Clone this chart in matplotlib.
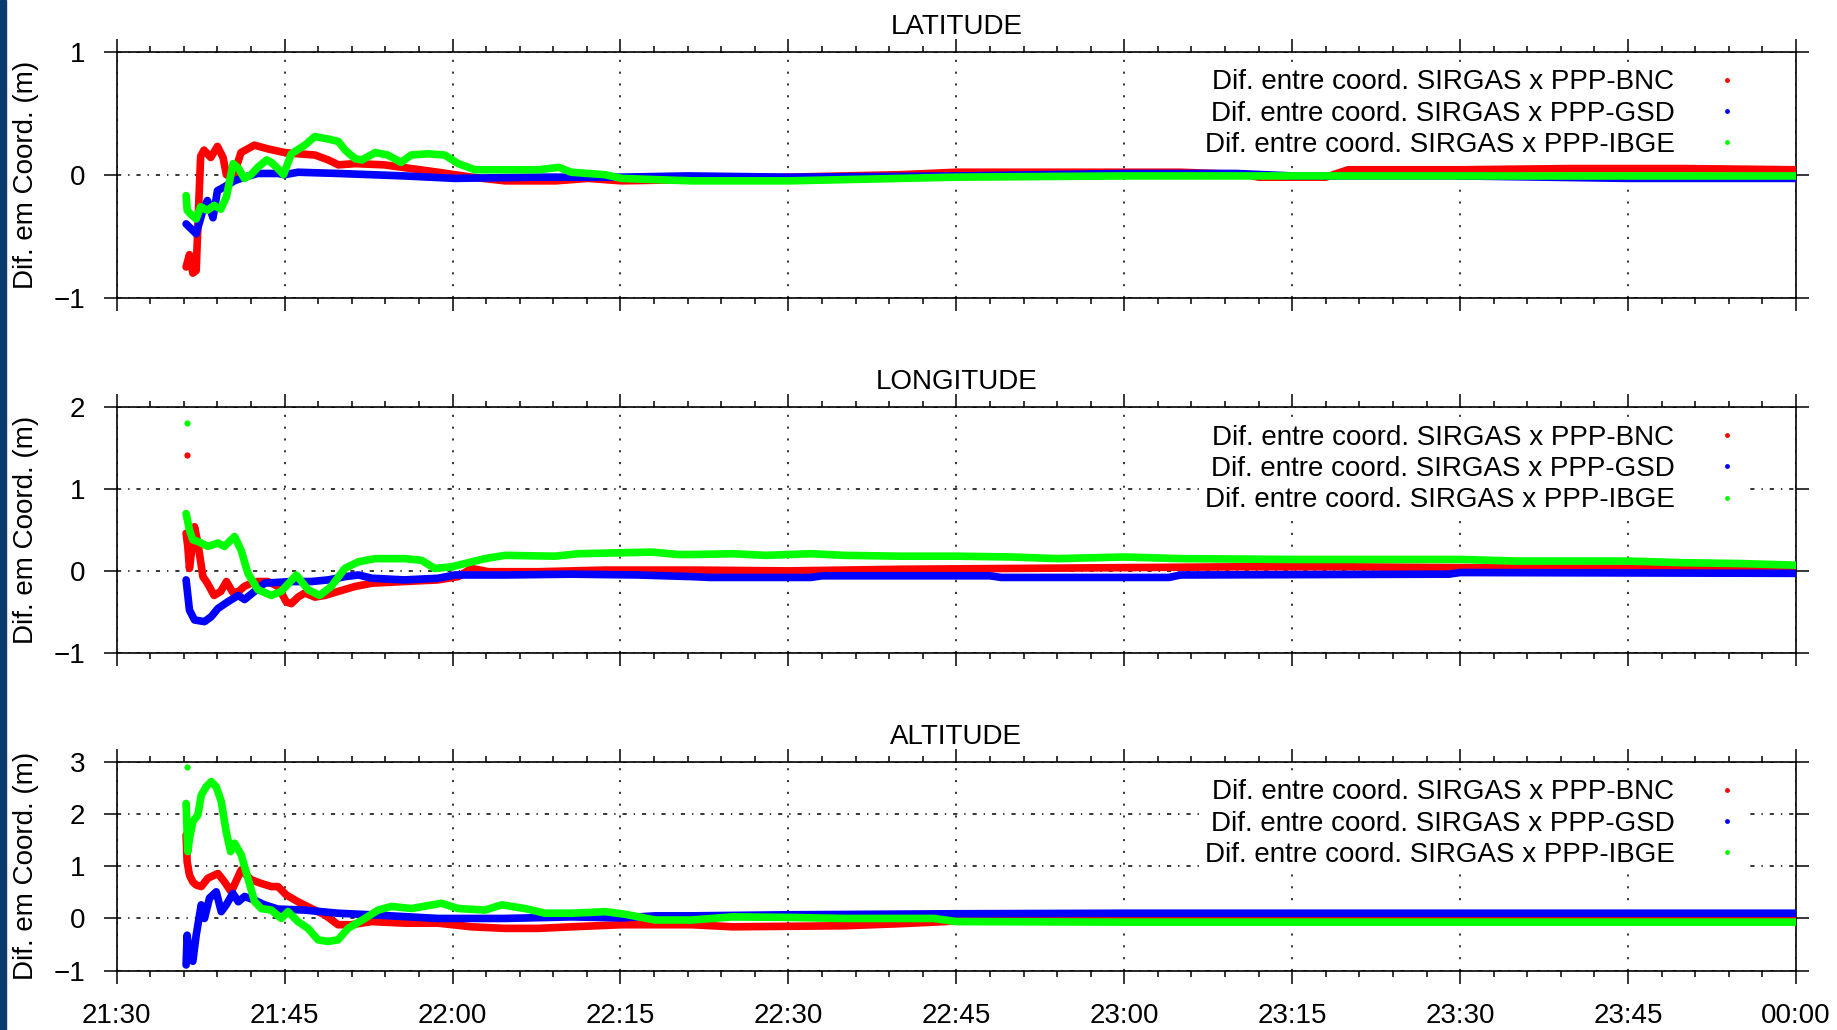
import numpy as np
import matplotlib
matplotlib.use('Agg')
import matplotlib.pyplot as plt
from matplotlib.lines import Line2D
from matplotlib.patches import Rectangle
from matplotlib.transforms import ScaledTranslation

# tempo em minutos a partir das 21:30
tick_labels = ['21:30', '21:45', '22:00', '22:15', '22:30', '22:45',
               '23:00', '23:15', '23:30', '23:45', '00:00']
series_names = ['Dif. entre coord. SIRGAS x PPP-BNC',
                'Dif. entre coord. SIRGAS x PPP-GSD',
                'Dif. entre coord. SIRGAS x PPP-IBGE']
panel_titles = ['LATITUDE', 'LONGITUDE', 'ALTITUDE']

# LATITUDE
lat_bnc_t = [6.2, 6.5, 6.8, 7.1, 7.3, 7.5, 7.8, 8.4, 9.0, 9.5, 9.8, 10.4, 11.1, 12.3, 13.5, 15.0,
             16.2, 17.7, 18.9, 19.8, 21.3, 23.9, 26.3, 28.7, 31.7, 34.7, 39.2, 42.1, 45.1, 51, 55,
             60, 70, 75, 85, 95, 101, 102, 108, 110, 120, 130, 140, 150]
lat_bnc = [-0.75, -0.65, -0.8, -0.78, -0.3, 0.15, 0.2, 0.14, 0.23, 0.14, 0.0, -0.02, 0.18, 0.24,
           0.21, 0.18, 0.17, 0.16, 0.12, 0.08, 0.09, 0.08, 0.05, 0.02, -0.02, -0.05, -0.05, -0.03,
           -0.05, -0.04, -0.03, -0.02, 0.0, 0.02, 0.02, 0.02, 0.0, -0.02, -0.02, 0.04, 0.04, 0.05,
           0.05, 0.04]
lat_gsd_t = [6.2, 7.1, 7.7, 8.1, 8.6, 9.0, 9.6, 10.5, 11.4, 12.6, 14.4, 15.0, 16.2, 19.8, 25.7,
             30.2, 37.7, 45.1, 51, 60, 75, 90, 100, 105, 120, 135, 150]
lat_gsd = [-0.4, -0.48, -0.29, -0.21, -0.35, -0.13, -0.1, -0.05, -0.02, 0.01, 0.01, 0.0, 0.02,
           0.01, -0.01, -0.03, -0.02, -0.02, -0.01, -0.02, -0.01, 0.01, 0.01, -0.01, -0.01, -0.03,
           -0.03]
lat_ibge_t = [6.2, 6.3, 6.6, 7.1, 7.5, 8.1, 8.7, 9.3, 9.8, 10.4, 10.9, 11.4, 12.0, 12.6, 13.4,
              13.8, 14.4, 14.9, 15.6, 16.8, 17.7, 18.9, 19.8, 20.4, 21.3, 21.9, 23.1, 24.2, 25.4,
              26.3, 27.8, 29.3, 30.5, 32.0, 34.7, 37.7, 39.5, 40.6, 43.6, 45.1, 48.1, 51.4, 55,
              60, 65, 75, 90, 105, 120, 135, 150]
lat_ibge = [-0.17, -0.29, -0.32, -0.36, -0.26, -0.29, -0.25, -0.28, -0.18, 0.09, 0.05, -0.03,
            0.0, 0.06, 0.12, 0.10, 0.05, 0.0, 0.17, 0.24, 0.31, 0.29, 0.27, 0.2, 0.13, 0.12,
            0.18, 0.16, 0.10, 0.16, 0.17, 0.16, 0.09, 0.04, 0.04, 0.04, 0.06, 0.02, 0.0, -0.03,
            -0.04, -0.05, -0.05, -0.05, -0.04, -0.02, -0.01, -0.01, -0.01, -0.01, -0.01]

# LONGITUDE
lon_bnc_t = [6.2, 6.35, 6.5, 6.95, 7.25, 7.7, 8.1, 8.7, 9.3, 9.8, 10.4, 10.9, 11.4, 12.0, 12.6,
             13.5, 14.4, 15.15, 15.6, 16.2, 16.8, 17.7, 18.6, 19.8, 21.3, 22.8, 25.7, 28.7, 30.5,
             31.7, 33.2, 37.7, 43.6, 51.4, 60, 70, 80, 90, 100, 110, 120, 135, 150]
lon_bnc = [0.46, 0.3, 0.03, 0.54, 0.34, -0.07, -0.15, -0.3, -0.25, -0.13, -0.27, -0.25, -0.19,
           -0.15, -0.13, -0.13, -0.19, -0.38, -0.4, -0.32, -0.27, -0.32, -0.3, -0.25, -0.19,
           -0.15, -0.13, -0.11, -0.07, 0.03, -0.01, -0.01, 0.01, 0.01, 0.0, 0.02, 0.03, 0.04,
           0.05, 0.05, 0.04, 0.03, 0.02]
lon_gsd_t = [6.2, 6.5, 6.95, 7.84, 8.44, 9.04, 9.9, 10.86, 11.42, 12.32, 13.21, 14.4, 15.6, 17.4,
             18.9, 20.4, 21.6, 22.8, 25.7, 28.7, 30.2, 34.7, 40.6, 46.6, 51.4, 53, 62, 63, 78, 79,
             94, 95, 119, 120, 150]
lon_gsd = [-0.11, -0.48, -0.6, -0.62, -0.56, -0.46, -0.38, -0.3, -0.35, -0.25, -0.15, -0.14,
           -0.13, -0.13, -0.11, -0.07, -0.05, -0.09, -0.11, -0.09, -0.05, -0.05, -0.04, -0.05,
           -0.07, -0.08, -0.08, -0.06, -0.06, -0.08, -0.08, -0.05, -0.04, -0.02, -0.03]
lon_ibge_t = [6.2, 6.5, 6.8, 7.25, 8.14, 9.04, 9.63, 10.53, 11.12, 11.72, 12.61, 13.81, 14.7,
              16.04, 17.09, 18.13, 19.17, 20.37, 21.56, 23.05, 25.73, 27.22, 28.42, 29.91, 31.1,
              32.89, 34.68, 39.15, 41.24, 47.8, 50.18, 51.37, 55, 58, 62, 65, 70, 75, 80, 84, 90,
              95, 105, 120, 125, 135, 140, 145, 150]
lon_ibge = [0.7, 0.5, 0.38, 0.36, 0.3, 0.34, 0.3, 0.42, 0.25, -0.03, -0.23, -0.3, -0.25, -0.05,
            -0.23, -0.3, -0.19, 0.03, 0.11, 0.15, 0.15, 0.13, 0.03, 0.05, 0.09, 0.15, 0.19, 0.18,
            0.21, 0.23, 0.2, 0.2, 0.21, 0.19, 0.21, 0.19, 0.18, 0.18, 0.17, 0.15, 0.17, 0.15,
            0.14, 0.14, 0.12, 0.12, 0.10, 0.09, 0.07]
# pontos isolados no inicio
lon_bnc_out = [6.3, 1.42]
lon_ibge_out = [6.3, 1.81]

# ALTITUDE
alt_bnc_t = [6.2, 6.29, 6.5, 6.8, 7.1, 7.55, 8.14, 9.04, 9.63, 10.23, 11.12, 12.02, 12.91, 13.81,
             14.4, 15.15, 16.19, 17.39, 18.58, 19.77, 20.96, 22.75, 25.73, 28.71, 31.7, 34.68,
             37.66, 40.64, 45.11, 51.37, 55, 60, 65, 70, 74, 76, 90, 150]
alt_bnc = [1.6, 1.09, 0.83, 0.7, 0.64, 0.61, 0.77, 0.86, 0.7, 0.51, 0.93, 0.74, 0.67, 0.61, 0.61,
           0.45, 0.32, 0.19, 0.07, -0.12, -0.12, -0.06, -0.09, -0.09, -0.16, -0.19, -0.19, -0.16,
           -0.12, -0.12, -0.16, -0.15, -0.14, -0.1, -0.06, -0.02, 0.0, 0.0]
alt_gsd_t = [6.2, 6.29, 6.5, 6.8, 7.1, 7.55, 7.84, 8.29, 8.89, 9.34, 9.78, 10.38, 10.86, 11.42,
             12.32, 13.21, 14.4, 16.79, 19.77, 22.75, 28.71, 34.68, 40.64, 45.11, 48.1, 51.37,
             60, 75, 90, 150]
alt_gsd = [-0.89, -0.32, -0.7, -0.82, -0.32, 0.26, 0.0, 0.39, 0.51, 0.13, 0.26, 0.48, 0.32, 0.42,
           0.35, 0.26, 0.18, 0.16, 0.1, 0.07, 0.0, 0.0, 0.03, 0.01, 0.05, 0.05, 0.07, 0.09, 0.1,
           0.1]
alt_ibge_t = [6.2, 6.35, 6.5, 6.8, 7.25, 7.55, 7.99, 8.44, 8.89, 9.34, 9.78, 10.17, 10.53, 11.12,
              11.72, 12.32, 12.91, 13.81, 14.7, 15.3, 16.19, 17.09, 17.98, 18.88, 19.77, 20.66,
              22.16, 23.35, 24.54, 26.33, 29.01, 30.5, 32.89, 34.38, 36.47, 38.26, 40.64, 43.62,
              45.41, 48.1, 51.37, 55, 60, 65, 73, 75, 90, 150]
alt_ibge = [2.2, 1.28, 1.53, 1.85, 1.98, 2.36, 2.52, 2.62, 2.52, 2.24, 1.66, 1.28, 1.44, 1.22,
            0.77, 0.32, 0.19, 0.16, 0.0, 0.13, -0.06, -0.19, -0.41, -0.44, -0.41, -0.19, 0.0,
            0.16, 0.23, 0.19, 0.29, 0.19, 0.16, 0.26, 0.19, 0.1, 0.1, 0.13, 0.08, -0.03, -0.03,
            0.03, 0.02, 0.0, 0.0, -0.06, -0.07, -0.07]
alt_ibge_out = [6.3, 2.9]

colors = ['#ff0000', '#0000ff', '#00ff00']

plt.rcParams['font.family'] = ['Liberation Sans', 'DejaVu Sans']
plt.rcParams['font.size'] = 20
plt.rcParams['lines.scale_dashes'] = False

fig = plt.figure(figsize=(18.37, 10.30), dpi=100)
fig.patches.append(Rectangle((0, 0), 6 / 1837, 1, transform=fig.transFigure,
                             color='#0b3a6f', zorder=0))

W, H = 1837, 1030
left, right = 116.7, 1796
boxes = [(51.7, 297.7), (407.3, 652.7), (761.7, 970.7)]
ylims = [(-1, 1), (-1, 2), (-1, 3)]

panels = [
    [(lat_bnc_t, lat_bnc), (lat_gsd_t, lat_gsd), (lat_ibge_t, lat_ibge)],
    [(lon_bnc_t, lon_bnc), (lon_gsd_t, lon_gsd), (lon_ibge_t, lon_ibge)],
    [(alt_bnc_t, alt_bnc), (alt_gsd_t, alt_gsd), (alt_ibge_t, alt_ibge)],
]
outliers = [[], [(lon_bnc_out, 0), (lon_ibge_out, 2)], [(alt_ibge_out, 2)]]

for k in range(3):
    top, bot = boxes[k]
    ax = fig.add_axes([left / W, 1 - bot / H, (right - left) / W, (bot - top) / H])
    for (t, v), c in zip(panels[k], colors):
        ax.plot(t, v, color=c, lw=5.5, solid_capstyle='round', solid_joinstyle='round', zorder=3)
    for (pt, ci) in outliers[k]:
        ax.plot(pt[0], pt[1], 'o', color=colors[ci], ms=4.5, mec='none', zorder=3)

    ax.set_xlim(0, 150)
    ax.set_ylim(*ylims[k])
    ax.set_yticks(np.arange(ylims[k][0], ylims[k][1] + 1))
    ax.set_xticks(np.arange(0, 151, 15))
    ax.set_xticks(np.arange(0, 151, 3), minor=True)
    if k == 2:
        ax.set_xticklabels(tick_labels)
    else:
        ax.set_xticklabels([])
    ax.tick_params(axis='x', which='major', direction='out', length=9.5, width=1.1,
                   top=True, bottom=True, pad=14)
    ax.tick_params(axis='x', which='minor', direction='out', length=4.5, width=1.1,
                   top=True, bottom=True)
    ax.tick_params(axis='y', which='major', direction='out', length=9.5, width=1.1,
                   left=True, right=True, pad=13)
    for s in ax.spines.values():
        s.set_linewidth(1.2)

    ax.xaxis.grid(True, which='major', color='black', lw=1.1, linestyle=(0, (1.5, 7)), zorder=1)
    ax.yaxis.grid(True, which='major', color='black', lw=1.1, linestyle=(0, (3, 5, 1, 5)), zorder=1)
    ax.set_axisbelow(True)

    ax.annotate(panel_titles[k], xy=(0.5, 1), xycoords='axes fraction', xytext=(0, 18),
                textcoords='offset pixels', ha='center', va='baseline')
    fig.text(26 / W, 1 - (top + bot) / 2 / H, 'Dif. em Coord. (m)', rotation=90,
             ha='center', va='center')

    handles = [Line2D([], [], ls='none', marker='o', ms=3.5, color=c, mec='none') for c in colors]
    leg = ax.legend(handles, series_names, loc='upper right', markerfirst=False,
                    bbox_to_anchor=(1, 1),
                    bbox_transform=ax.transAxes + ScaledTranslation(-0.50, -0.12, fig.dpi_scale_trans),
                    borderaxespad=0, borderpad=0.2, handlelength=1.0, handletextpad=1.37,
                    labelspacing=0.19, frameon=True, framealpha=1, edgecolor='none',
                    fancybox=False, fontsize=20)
    leg.set_zorder(5)

fig.savefig('out.png', dpi=100)
